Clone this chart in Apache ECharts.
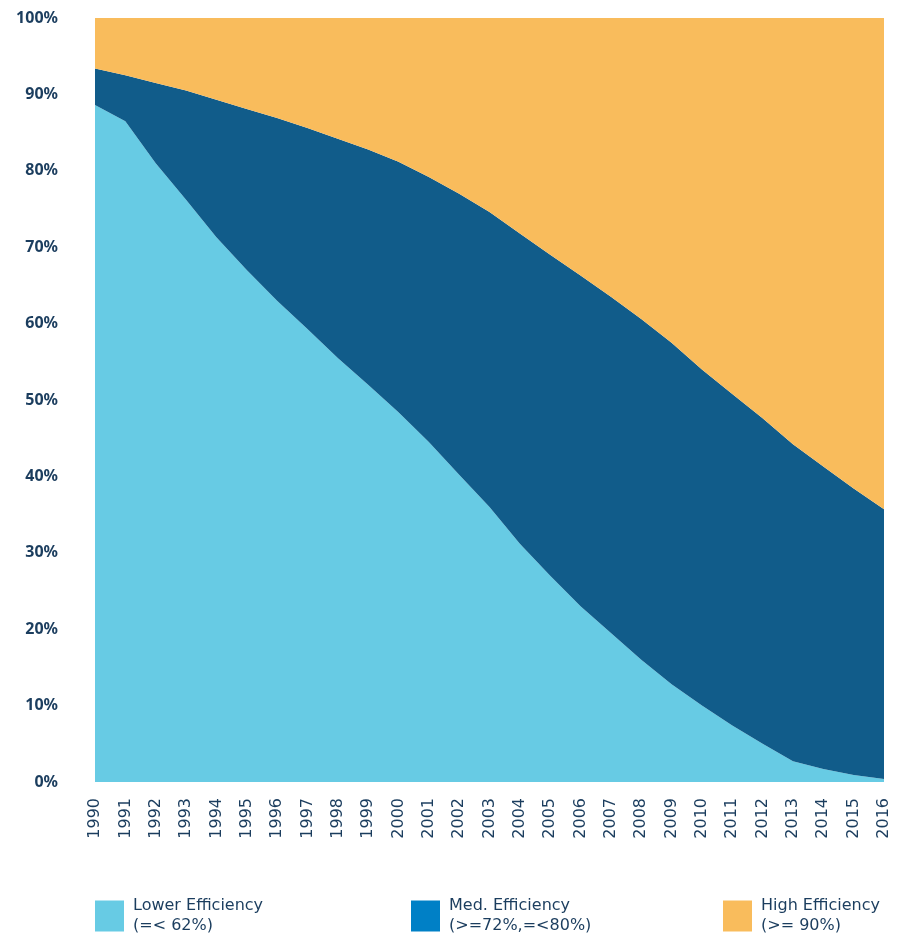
<!DOCTYPE html>
<html>
<head>
<meta charset="utf-8">
<script src="https://cdn.jsdelivr.net/npm/echarts@6/dist/echarts.min.js"></script>
<style>
html,body{margin:0;padding:0;background:#fff;}
#chart{width:900px;height:935px;}
</style>
</head>
<body>
<div id="chart"></div>
<script>
const years = ['1990','1991','1992','1993','1994','1995','1996','1997','1998','1999','2000','2001','2002','2003','2004','2005','2006','2007','2008','2009','2010','2011','2012','2013','2014','2015','2016'];
// Share of Lower Efficiency (%)
const lowerShare = [88.6,86.5,81.0,76.2,71.3,67.0,63.0,59.3,55.5,52.0,48.4,44.5,40.2,36.0,31.2,27.0,23.0,19.5,16.0,12.8,10.0,7.4,5.0,2.7,1.7,0.9,0.4];
// Share of Lower + Med Efficiency (cumulative, %)
const lowerPlusMed = [93.4,92.5,91.5,90.5,89.3,88.1,86.9,85.6,84.2,82.8,81.2,79.2,77.0,74.6,71.8,69.0,66.3,63.5,60.6,57.5,54.0,50.8,47.6,44.2,41.3,38.4,35.7];
const medShare = lowerPlusMed.map((v,i)=>+(v-lowerShare[i]).toFixed(2));
const highShare = lowerPlusMed.map(v=>+(100-v).toFixed(2));

const names = ['Lower Efficiency','Med. Efficiency','High Efficiency'];
const subs = {'Lower Efficiency':'(=< 62%)','Med. Efficiency':'(>=72%,=<80%)','High Efficiency':'(>= 90%)'};
const areaColors = ['#67cbe4','#115c8a','#f9bc5c'];
const legendColors = ['#67cbe4','#0080c6','#f9bc5c'];
const legendLefts = [95,411,723];
const txt = '#1b3d5e';

const chart = echarts.init(document.getElementById('chart'));
const mk = (name, data, i) => ({
  name, type:'line', stack:'total', data, symbol:'none', smooth:false,
  lineStyle:{width:0}, areaStyle:{color:areaColors[i], opacity:1},
  itemStyle:{color:areaColors[i]}
});
chart.setOption({
  animation:false,
  grid:{left:95,right:16,top:18,bottom:153},
  xAxis:{
    type:'category', data:years, boundaryGap:false,
    axisLine:{show:false}, axisTick:{show:false},
    axisLabel:{rotate:90, margin:16, interval:0, color:txt, fontSize:16, fontFamily:'DejaVu Sans'}
  },
  yAxis:{
    type:'value', min:0, max:100, interval:10,
    splitLine:{show:false}, axisLine:{show:false}, axisTick:{show:false},
    axisLabel:{margin:37, color:txt, fontSize:16, fontWeight:'bold', fontFamily:'Noto Sans', formatter:v=>v+'%'}
  },
  legend: names.map((n,i)=>({
    data:[{name:n, itemStyle:{color:legendColors[i]}}],
    left:legendLefts[i], top:896, padding:0, itemWidth:29, itemHeight:31, itemGap:0,
    icon:'rect',
    formatter: name => name + '\n' + subs[name],
    textStyle:{color:txt, fontSize:16, lineHeight:20, fontFamily:'DejaVu Sans', padding:[0,0,0,4]}
  })),
  series:[mk(names[0],lowerShare,0), mk(names[1],medShare,1), mk(names[2],highShare,2)]
});
</script>
</body>
</html>
